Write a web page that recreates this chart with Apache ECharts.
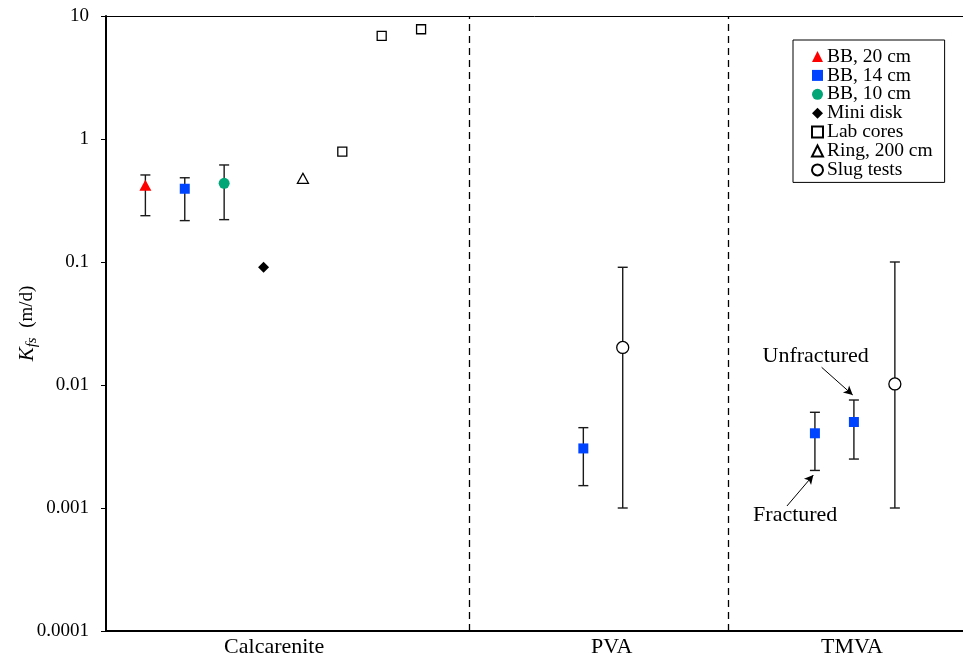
<!DOCTYPE html>
<html>
<head>
<meta charset="utf-8">
<script src="https://cdn.jsdelivr.net/npm/echarts@6/dist/echarts.min.js"></script>
<style>
html, body { margin: 0; padding: 0; background: #fff; }
#main { width: 963px; height: 658px; }
</style>
</head>
<body>
<div id="main"></div>
<script>
// Kfs (m/d) by method; x is just the slot along the axis
var bb20X = [1];
var bb20Y = [0.42];
var bb20Lo = [0.238];
var bb20Hi = [0.51];

var bb14X = [2, 12.12, 18.0, 18.99];
var bb14Y = [0.394, 0.00305, 0.00405, 0.005];
var bb14Lo = [0.217, 0.00152, 0.00202, 0.0025];
var bb14Hi = [0.484, 0.0045, 0.006, 0.00755];

var bb10X = [3];
var bb10Y = [0.436];
var bb10Lo = [0.221];
var bb10Hi = [0.615];

var miniX = [4];
var miniY = [0.0905];

var labX = [6, 7, 8];
var labY = [0.789, 6.9, 7.8];

var ringX = [5];
var ringY = [0.479];

var slugX = [13.12, 20.03];
var slugY = [0.0202, 0.0102];
var slugLo = [0.001, 0.001];
var slugHi = [0.0906, 0.1];

var dividerX = [9.22, 15.8];
var groupNames = ['Calcarenite', 'PVA', 'TMVA'];
var groupX = [4.27, 12.84, 18.94];

var FONT = 'Liberation Serif';

function pts(xs, ys) {
    return xs.map(function (x, i) { return [x, ys[i]]; });
}

var errData = [];
function addErr(xs, lo, hi) {
    xs.forEach(function (x, i) { errData.push([x, lo[i], hi[i]]); });
}
addErr(bb20X, bb20Lo, bb20Hi);
addErr(bb14X, bb14Lo, bb14Hi);
addErr(bb10X, bb10Lo, bb10Hi);
addErr(slugX, slugLo, slugHi);

var myChart = echarts.init(document.getElementById('main'));

var hollow = { color: '#fff', borderColor: '#000', borderWidth: 1.3, opacity: 1 };

option = {
    animation: false,
    grid: { left: 106, right: 0, top: 16, bottom: 27, outerBoundsMode: 'none', containLabel: false },
    legend: {
        orient: 'vertical',
        left: 793,
        top: 40,
        itemWidth: 11,
        itemHeight: 11,
        itemGap: -1.1,
        padding: [6.5, 12, 2.5, 18],
        borderColor: '#000',
        borderWidth: 1,
        borderRadius: 0,
        textStyle: { fontFamily: FONT, fontSize: 19.5, color: '#000', padding: [0, 0, 0, -1] },
        data: ['BB, 20 cm', 'BB, 14 cm', 'BB, 10 cm', 'Mini disk', 'Lab cores', 'Ring, 200 cm', 'Slug tests']
    },
    xAxis: [{
        type: 'value',
        min: 0,
        max: 21.76,
        axisLine: { lineStyle: { color: '#000', width: 2 } },
        axisTick: { show: false },
        splitLine: { show: false },
        axisLabel: {
            customValues: groupX,
            formatter: function (v) { return groupNames[groupX.indexOf(v)]; },
            fontFamily: FONT, fontSize: 22, color: '#000', margin: 5
        }
    }, {
        type: 'value',
        position: 'top',
        min: 0,
        max: 21.76,
        axisLine: { show: true, lineStyle: { color: '#000', width: 1 } },
        axisTick: { show: false },
        axisLabel: { show: false },
        splitLine: { show: false }
    }],
    yAxis: {
        type: 'log',
        logBase: 10,
        min: 0.0001,
        max: 10,
        name: '{k|K}{s|fs}{n|  (m/d)}',
        nameLocation: 'middle',
        nameRotate: 90,
        nameGap: 66,
        nameMoveOverlap: false,
        nameTextStyle: {
            fontFamily: FONT, color: '#000',
            rich: {
                k: { fontFamily: FONT, fontSize: 21, fontStyle: 'italic', color: '#000', lineHeight: 26 },
                s: { fontFamily: FONT, fontSize: 15, fontStyle: 'italic', color: '#000', lineHeight: 16, verticalAlign: 'bottom' },
                n: { fontFamily: FONT, fontSize: 19, color: '#000', lineHeight: 26 }
            }
        },
        axisLine: { show: true, lineStyle: { color: '#000', width: 2 } },
        axisTick: { show: true, length: 5, lineStyle: { color: '#000', width: 1 } },
        minorTick: { show: false },
        splitLine: { show: false },
        axisLabel: {
            fontFamily: FONT, fontSize: 19, color: '#000', margin: 17,
            formatter: function (v) { return String(+Number(v).toPrecision(1)); }
        }
    },
    series: [
        {
            type: 'custom',
            name: 'err',
            z: 1,
            silent: true,
            renderItem: function (params, api) {
                var x = api.value(0);
                var lo = api.coord([x, api.value(1)]);
                var hi = api.coord([x, api.value(2)]);
                var hw = 5;
                var st = { stroke: '#1a1a1a', lineWidth: 1.4 };
                return {
                    type: 'group',
                    children: [
                        { type: 'line', shape: { x1: lo[0], y1: lo[1], x2: hi[0], y2: hi[1] }, style: st },
                        { type: 'line', shape: { x1: lo[0] - hw, y1: lo[1], x2: lo[0] + hw, y2: lo[1] }, style: st },
                        { type: 'line', shape: { x1: hi[0] - hw, y1: hi[1], x2: hi[0] + hw, y2: hi[1] }, style: st }
                    ]
                };
            },
            encode: { x: 0, y: [1, 2] },
            data: errData
        },
        {
            type: 'scatter', name: 'BB, 20 cm', z: 3,
            symbol: 'triangle', symbolSize: [12, 11],
            itemStyle: { color: '#ff0000', opacity: 1 },
            data: pts(bb20X, bb20Y)
        },
        {
            type: 'scatter', name: 'BB, 14 cm', z: 3,
            symbol: 'rect', symbolSize: 10,
            itemStyle: { color: '#0044ff', opacity: 1 },
            data: pts(bb14X, bb14Y),
            markLine: {
                silent: true,
                symbol: ['none', 'arrow'],
                symbolSize: [7, 9],
                label: { show: false },
                lineStyle: { color: '#000', width: 1, type: 'solid', opacity: 1 },
                data: [
                    [{ coord: [18.17, 0.01393] }, { coord: [18.96, 0.0083] }],
                    [{ coord: [17.29, 0.001038] }, { coord: [17.96, 0.001854] }]
                ]
            },
            markPoint: {
                silent: true,
                symbol: 'circle',
                symbolSize: 0,
                label: { show: true, position: 'inside', formatter: '{b}', fontFamily: FONT, fontSize: 22, color: '#000' },
                data: [
                    { name: 'Unfractured', coord: [18.02, 0.01698] },
                    { name: 'Fractured', coord: [17.5, 0.000877] }
                ]
            }
        },
        {
            type: 'scatter', name: 'BB, 10 cm', z: 3,
            symbol: 'circle', symbolSize: 11,
            itemStyle: { color: '#00a676', opacity: 1 },
            data: pts(bb10X, bb10Y)
        },
        {
            type: 'scatter', name: 'Mini disk', z: 3,
            symbol: 'diamond', symbolSize: 11,
            itemStyle: { color: '#000', opacity: 1 },
            data: pts(miniX, miniY),
            markLine: {
                silent: true,
                symbol: 'none',
                label: { show: false },
                lineStyle: { color: '#000', width: 1.3, type: [7, 5], opacity: 1 },
                data: dividerX.map(function (x) { return { xAxis: x }; })
            }
        },
        {
            type: 'scatter', name: 'Lab cores', z: 3,
            symbol: 'rect', symbolSize: 9,
            itemStyle: hollow,
            data: pts(labX, labY)
        },
        {
            type: 'scatter', name: 'Ring, 200 cm', z: 3,
            symbol: 'triangle', symbolSize: [11, 10],
            itemStyle: hollow,
            data: pts(ringX, ringY)
        },
        {
            type: 'scatter', name: 'Slug tests', z: 3,
            symbol: 'circle', symbolSize: 12,
            itemStyle: hollow,
            data: pts(slugX, slugY)
        }
    ]
};

myChart.setOption(option);
</script>
</body>
</html>
